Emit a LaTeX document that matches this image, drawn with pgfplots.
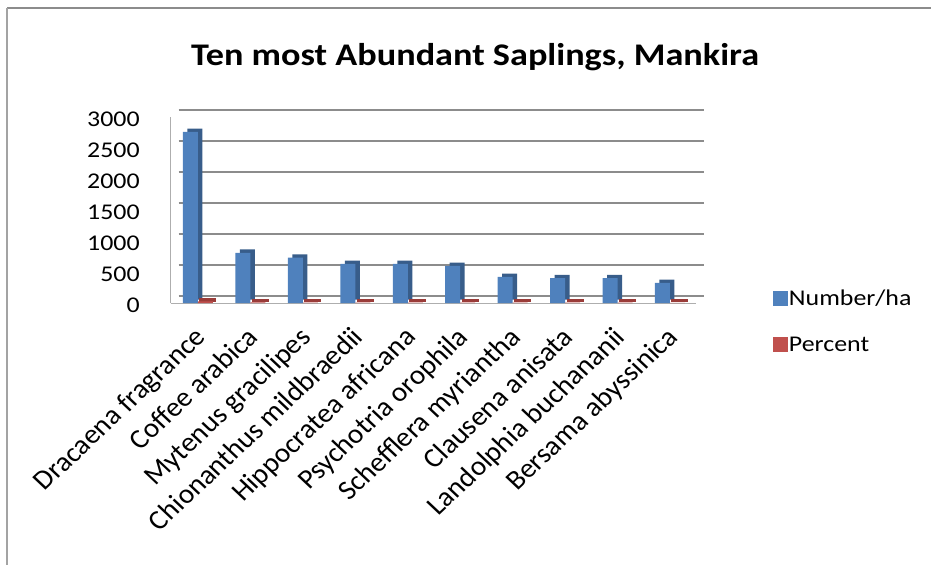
\documentclass[border=0pt]{standalone}
\usepackage{fontspec}
\setmainfont{Carlito}
\usepackage{graphicx}
\usepackage{pgfplots}
\pgfplotsset{compat=1.18}
\definecolor{barblue}{HTML}{4F81BD}
\definecolor{barbluedark}{HTML}{385D8A}
\definecolor{barred}{HTML}{C0504D}
\definecolor{barreddark}{HTML}{9A3C39}
\definecolor{gridgray}{HTML}{8C8C8C}
\begin{document}
\begin{tikzpicture}[x=1pt,y=1pt]
\path[use as bounding box] (0,0) rectangle (931,565);
\draw[gridgray, line width=2.5pt] (7,557) -- (931,557);
\draw[gridgray!80, line width=1.5pt] (7,557) -- (7,0);
\node[anchor=base, font=\bfseries\fontsize{31.5}{36}\selectfont] at (475,499) {\scalebox{1.15}[1]{Ten most Abundant Saplings, Mankira}};
\begin{axis}[
  at={(170.7pt,262pt)}, anchor=south west,
  scale only axis, width=525.5pt, height=186pt,
  xmin=-0.52, xmax=9.5, ymin=0, ymax=3000,
  enlargelimits=false,
  ytick={0,500,1000,1500,2000,2500,3000},
  xtick={0,...,9},
  xticklabels={Dracaena fragrance,Coffee arabica,Mytenus gracilipes,Chionanthus mildbraedii,Hippocratea africana,Psychotria orophila,Schefflera myriantha,Clausena anisata,Landolphia buchananii,Bersama abyssinica},
  /pgf/number format/assume math mode=true,
  /pgf/number format/1000 sep={},
  yticklabel style={font=\fontsize{22.5}{27}\selectfont, anchor=east, xshift=-27pt, yshift=-2pt, xscale=1.15},
  xticklabel style={font=\fontsize{27.5}{31}\selectfont, xshift=-5pt, yshift=-22pt, xscale=1.06, rotate=45, anchor=north east, inner sep=0pt},
  major tick length=0pt,
  ymajorgrids,
  major grid style={gridgray, line width=1.2pt, xshift=8pt, yshift=7pt},
  axis x line*=bottom, axis y line*=left,
  axis line style={gridgray!70, line width=1pt, -},
  legend style={at={(1.14,-0.097)}, anchor=west, draw=none, fill=none,
    font=\fontsize{22.5}{27}\selectfont, row sep=28pt,
    nodes={inner sep=1pt}},
  legend cell align=left,
  legend image code/.code={\fill[#1, draw=none] (0pt,-7.5pt) rectangle (15pt,7.5pt);},
  clip=false,
]
% Number/ha: back face (side/top shading) and front face
\addplot[ybar, bar width=15pt, bar shift=-3pt, yshift=3.3pt, fill=barbluedark, draw=none, forget plot]
  coordinates {(0,2760) (1,810) (2,730) (3,630) (4,630) (5,600) (6,420) (7,400) (8,400) (9,325)};
\addplot[ybar, bar width=15pt, bar shift=-7.5pt, fill=barblue, draw=none]
  coordinates {(0,2760) (1,810) (2,730) (3,630) (4,630) (5,600) (6,420) (7,400) (8,400) (9,325)};
\addlegendentry{\scalebox{1.15}[1]{Number/ha}}
% Percent: back face and front face (flat slabs)
\addplot[ybar, bar width=15pt, bar shift=10pt, yshift=2.5pt, fill=barreddark, draw=barreddark, line width=2pt, forget plot]
  coordinates {(0,27.8) (1,8.2) (2,7.4) (3,6.4) (4,6.4) (5,6.1) (6,4.3) (7,4.1) (8,4.1) (9,3.3)};
\addplot[ybar, bar width=15pt, bar shift=7.5pt, fill=barred, draw=none]
  coordinates {(0,27.8) (1,8.2) (2,7.4) (3,6.4) (4,6.4) (5,6.1) (6,4.3) (7,4.1) (8,4.1) (9,3.3)};
\addlegendentry{\scalebox{1.15}[1]{Percent}}
\end{axis}
\end{tikzpicture}
\end{document}
